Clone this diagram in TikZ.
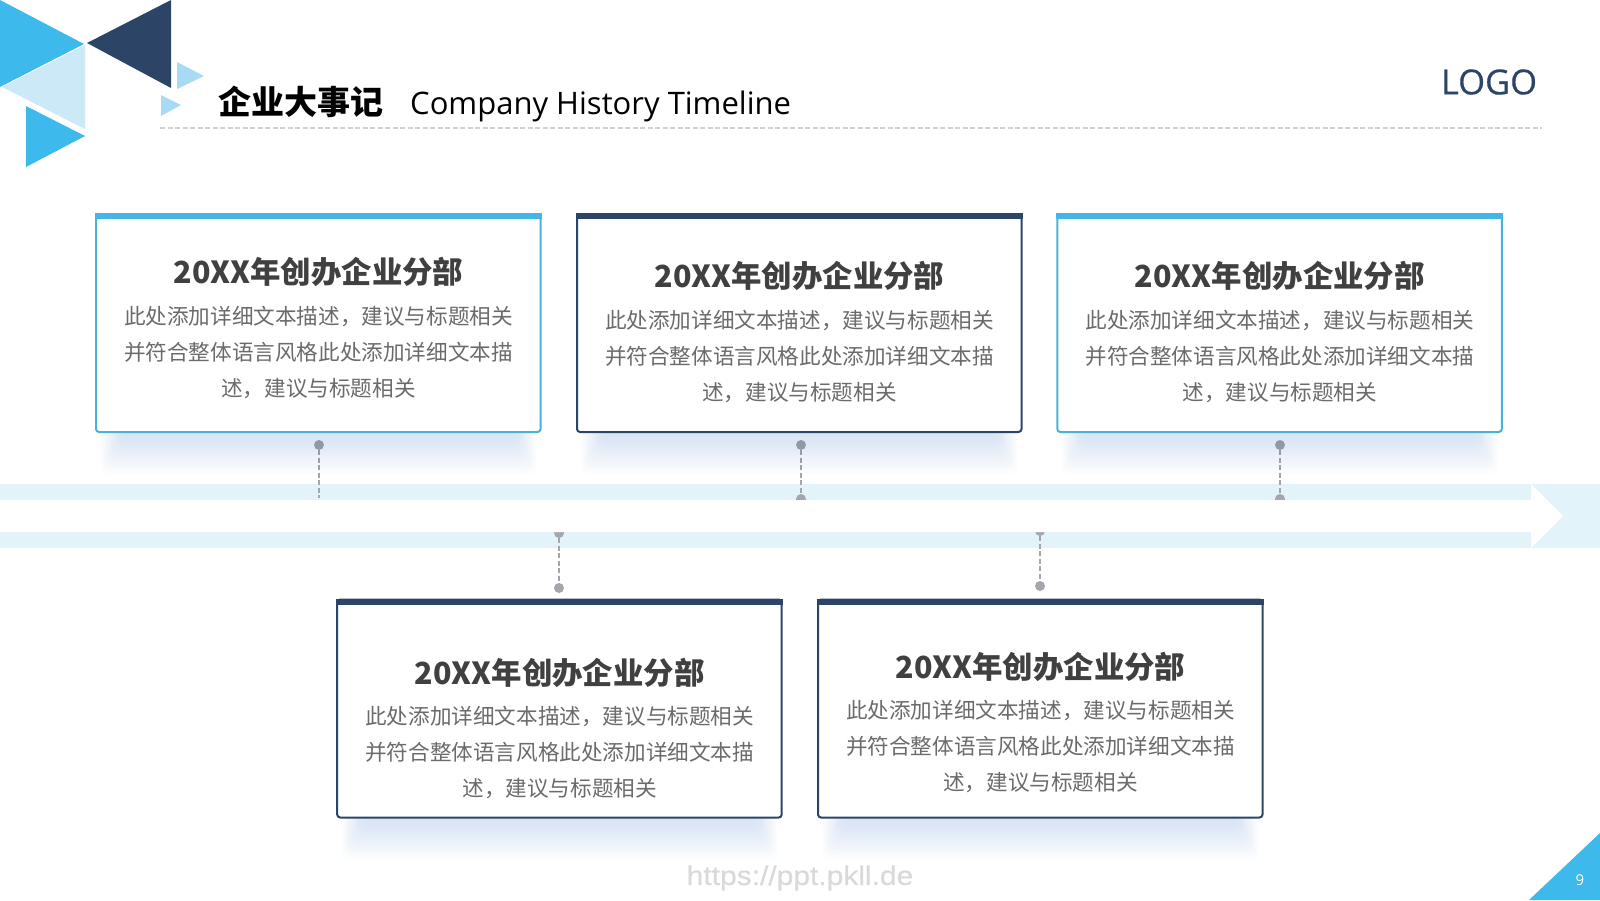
\documentclass[tikz,border=0pt]{standalone}
\usepackage{fontspec}
\usepackage{xcolor}
\setmainfont{Open Sans}
\newfontfamily\cjk{Noto Sans CJK SC}
\newfontfamily\urlfont[FakeStretch=1.11,FakeBold=0.4]{Liberation Sans}
\newfontfamily\logofont[FakeBold=0.5]{Open Sans}
\definecolor{SkyBlue}{HTML}{3DB9EC}
\definecolor{Navy}{HTML}{2C4567}
\definecolor{PaleBlue}{HTML}{CBE9F6}
\definecolor{SoftBlue}{HTML}{A6DBF3}
\definecolor{BandBlue}{HTML}{E2F3FA}
\definecolor{CardCyan}{HTML}{4AB2DA}
\definecolor{BarCyan}{HTML}{45B5E6}
\definecolor{TitleGray}{HTML}{404040}
\definecolor{BodyGray}{HTML}{6B6B6B}
\definecolor{LinkGray}{HTML}{A3A7AB}
\definecolor{ShadowTint}{HTML}{4A80C8}

\begin{document}
\begin{tikzpicture}[
        x=1pt,y=-1pt,
        % Environment Config
        CardBox/.style={% Style for the card frame
          draw=#1,
          fill=white,
          line width=2pt,
          rounded corners=3pt,
          minimum width=444.5pt,
          minimum height=218pt,
          inner sep=0pt
        },
        CardBar/.style={% Style for the band over the card
          fill=#1,
          minimum width=447pt,
          minimum height=6pt,
          inner sep=0pt
        },
        CardTitle/.style={
          text=TitleGray,
          inner sep=0pt,
          font={\cjk\bfseries\fontsize{30.4}{36}\selectfont}
        },
        CardBody/.style={
          text=BodyGray,
          inner sep=0pt,
          align=center,
          font={\cjk\fontsize{21.6}{36}\selectfont}
        },
        LinkDot/.style={
          circle,
          fill=LinkGray,
          minimum size=10pt,
          inner sep=0pt
        },
        LinkLine/.style={
          draw=LinkGray,
          line width=2.2pt,
          dash pattern=on 5pt off 2.5pt
        },
        HeadLine/.style={
          draw=black!18,
          line width=1.2pt,
          dash pattern=on 5pt off 2.5pt
        }
      ]

      \useasboundingbox (0,0) rectangle (1600,900);

      \def\MyCard(#1)#2#3#4#5#6{% Custom card: corner, name, frame, bar, title and body height
        \begin{scope}[shift={(#1)}]
          %===Shadow===
          \foreach \i in {0,...,19}{
            \fill[ShadowTint,opacity=0.0105,rounded corners=8pt]
              (5+1.2*\i,200) rectangle (442-1.2*\i,262-2.1*\i);
          }
          %===Frame===
          \node[CardBox=#3] (#2 Box) at (223.25,110) {};
          \node[CardBar=#4] (#2 Bar) at (223.5,3) {};
          %===Text===
          \node[CardTitle] (#2 Title) at (223.5,#5) {20XX年创办企业分部};
          \node[CardBody] (#2 Body) at (223.5,#6)
            {此处添加详细文本描述，建议与标题相关\\
             并符合整体语言风格此处添加详细文本描\\
             述，建议与标题相关};
        \end{scope}
      }

      % Corner triangles
      \fill[SkyBlue] (0,0) -- (84,44) -- (0,87) -- cycle;
      \fill[Navy] (171,0) -- (87,43) -- (171,88) -- cycle;
      \fill[PaleBlue] (85,45) -- (2,87) -- (85,129) -- cycle;
      \fill[SkyBlue] (26,106) -- (85,136) -- (26,167) -- cycle;
      \fill[SoftBlue] (177,62) -- (204,76) -- (177,89) -- cycle;
      \fill[SoftBlue] (161,95) -- (181,105) -- (161,116) -- cycle;
      \fill[SkyBlue] (1600,833) -- (1600,900) -- (1529,900) -- cycle;

      % Heading
      \node[font={\cjk\bfseries\fontsize{33}{36}\selectfont},inner sep=0pt] (HeadCn) at (300.5,102) {企业大事记};
      \node[font=\fontsize{31}{36}\selectfont,anchor=base west,inner sep=0pt] (HeadEn) at (410,114) {Company History Timeline};
      \node[font={\logofont\fontsize{34.5}{40}\selectfont},text=Navy,inner sep=0pt] (Logo) at (1489,82) {LOGO};
      \coordinate (RuleL) at (160,128);
      \coordinate (RuleR) at (1542,128);
      \draw[HeadLine] (RuleL) -- (RuleR);

      % Light band behind the arrow
      \fill[BandBlue] (0,484) rectangle (1600,548);

      % Dots and dashes from the cards to the band
      \node[LinkDot] (Up1) at (319,445) {};
      \coordinate (Low1) at (319,498);
      \node[LinkDot] (Up2) at (801,445) {};
      \node[LinkDot] (Low2) at (801,499) {};
      \node[LinkDot] (Up3) at (1280,445) {};
      \node[LinkDot] (Low3) at (1280,499) {};
      \node[LinkDot] (Up4) at (559,533) {};
      \node[LinkDot] (Low4) at (559,588) {};
      \node[LinkDot] (Up5) at (1040,531) {};
      \node[LinkDot] (Low5) at (1040,586) {};
      \draw[LinkLine] (Up1) -- (Low1);
      \draw[LinkLine] (Up2) -- (Low2);
      \draw[LinkLine] (Up3) -- (Low3);
      \draw[LinkLine] (Up4) -- (Low4);
      \draw[LinkLine] (Up5) -- (Low5);

      % White arrow over the band
      \fill[white] (0,500) -- (1531,500) -- (1531,484) -- (1563,516)
        -- (1531,548) -- (1531,532) -- (0,532) -- cycle;

      % Put the cards in position
      \MyCard(95,213){1}{CardCyan}{BarCyan}{59}{139.7}
      \MyCard(576,213){2}{Navy}{Navy}{62.5}{143.5}
      \MyCard(1056.3,213){3}{CardCyan}{BarCyan}{62.5}{143.5}
      \MyCard(336.2,598.5){4}{Navy}{Navy}{74.5}{154}
      \MyCard(817,598.5){5}{Navy}{Navy}{68.5}{148}

      % Footer
      \node[font={\urlfont\fontsize{27}{30}\selectfont},text=black!15,inner sep=0pt] (Url) at (800,878) {https://ppt.pkll.de};
      \node[font=\fontsize{15}{18}\selectfont,text=white,inner sep=0pt] (PageNo) at (1580,880) {9};

      \end{tikzpicture}
\end{document}
